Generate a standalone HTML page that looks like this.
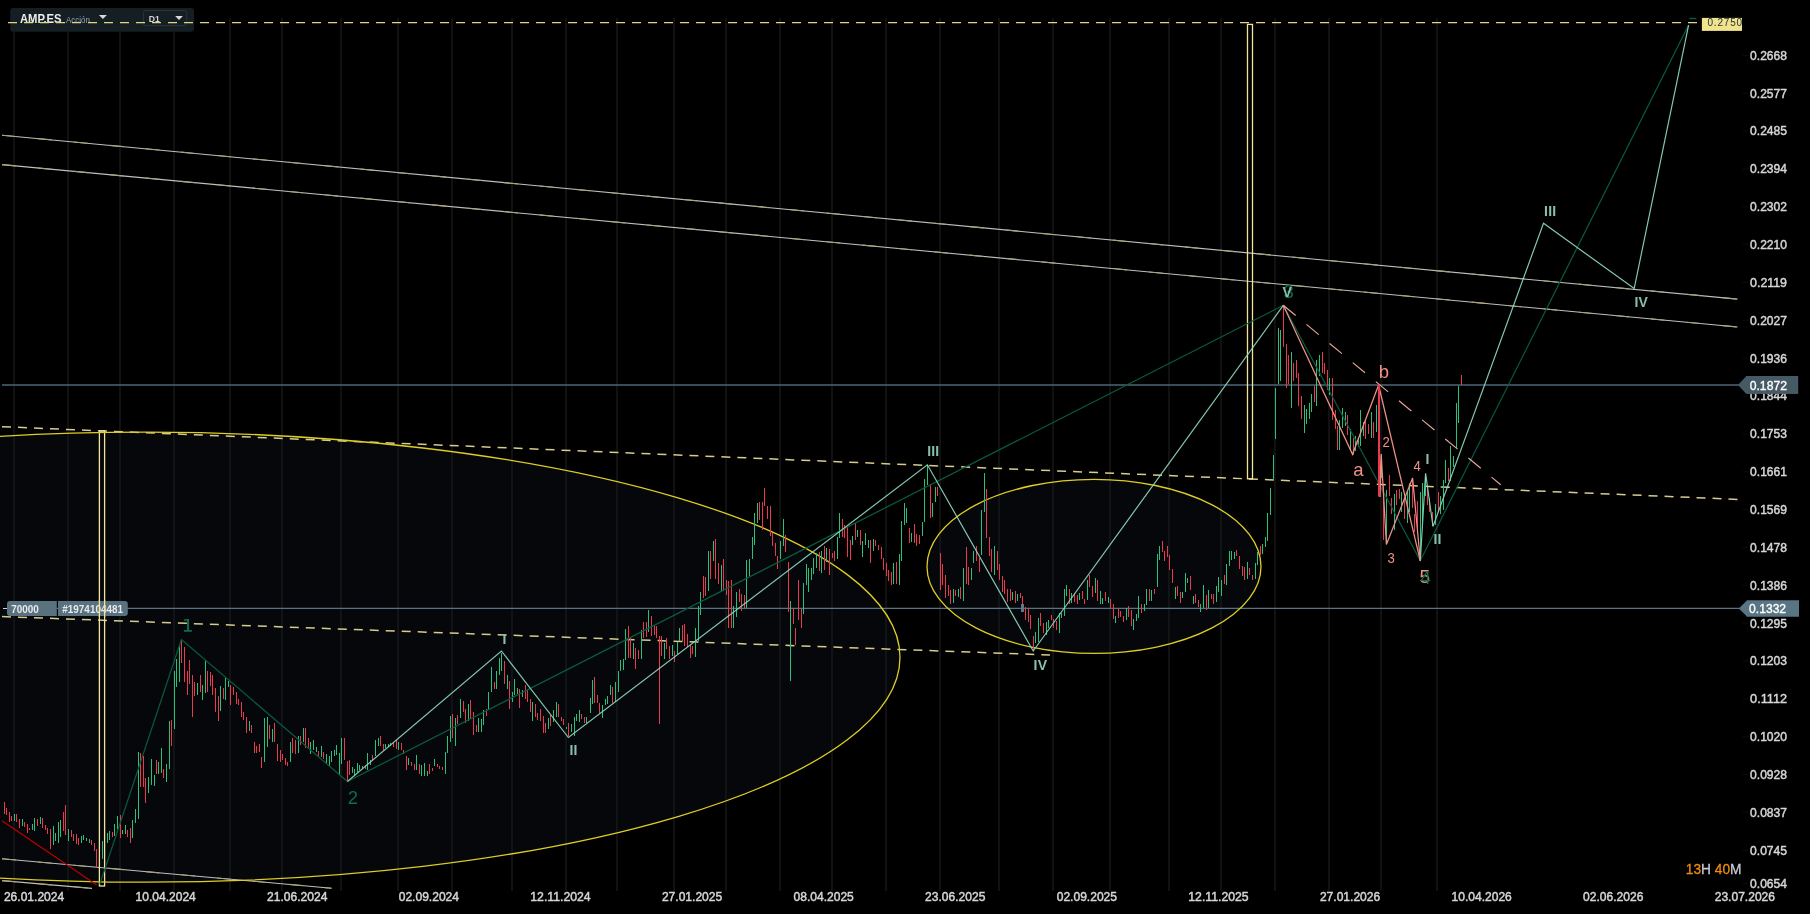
<!DOCTYPE html><html><head><meta charset="utf-8"><title>AMP.ES chart</title><style>
html,body{margin:0;padding:0;background:#000;}
body{width:1810px;height:914px;overflow:hidden;font-family:"Liberation Sans",sans-serif;}
svg{display:block;will-change:transform;}
text{font-family:"Liberation Sans",sans-serif;}
</style></head><body>
<svg width="1810" height="914" viewBox="0 0 1810 914">
<rect x="0" y="0" width="1810" height="914" fill="#000"/>
<defs><clipPath id="cp"><rect x="0" y="18" width="1740" height="871"/></clipPath></defs>
<g clip-path="url(#cp)">
<ellipse cx="145" cy="657.2" rx="755" ry="225" fill="#06070b"/>
<ellipse cx="1094" cy="566.4" rx="167" ry="87" fill="#06070b"/>
</g>
<g stroke="#19191b" stroke-width="1.4">
<line x1="14" y1="18" x2="14" y2="891"/>
<line x1="68" y1="18" x2="68" y2="891"/>
<line x1="120" y1="18" x2="120" y2="891"/>
<line x1="174" y1="18" x2="174" y2="891"/>
<line x1="230" y1="18" x2="230" y2="891"/>
<line x1="282" y1="18" x2="282" y2="891"/>
<line x1="341" y1="18" x2="341" y2="891"/>
<line x1="398" y1="18" x2="398" y2="891"/>
<line x1="452" y1="18" x2="452" y2="891"/>
<line x1="512" y1="18" x2="512" y2="891"/>
<line x1="566" y1="18" x2="566" y2="891"/>
<line x1="617" y1="18" x2="617" y2="891"/>
<line x1="674" y1="18" x2="674" y2="891"/>
<line x1="726" y1="18" x2="726" y2="891"/>
<line x1="780" y1="18" x2="780" y2="891"/>
<line x1="832" y1="18" x2="832" y2="891"/>
<line x1="886" y1="18" x2="886" y2="891"/>
<line x1="940" y1="18" x2="940" y2="891"/>
<line x1="999" y1="18" x2="999" y2="891"/>
<line x1="1053" y1="18" x2="1053" y2="891"/>
<line x1="1110" y1="18" x2="1110" y2="891"/>
<line x1="1169" y1="18" x2="1169" y2="891"/>
<line x1="1221" y1="18" x2="1221" y2="891"/>
<line x1="1275" y1="18" x2="1275" y2="891"/>
<line x1="1329" y1="18" x2="1329" y2="891"/>
<line x1="1381" y1="18" x2="1381" y2="891"/>
<line x1="1437" y1="18" x2="1437" y2="891"/>
</g>
<g clip-path="url(#cp)" fill="none">
<line x1="2" y1="135.2" x2="1737.5" y2="299.1" stroke="#bfbfbe" stroke-width="1.1"/>
<line x1="2" y1="135.2" x2="1737.5" y2="299.1" stroke="#aaa37e" stroke-width="1.1" stroke-dasharray="14 22"/>
<line x1="2" y1="164.6" x2="1737.5" y2="327" stroke="#bfbfbe" stroke-width="1.1"/>
<line x1="2" y1="164.6" x2="1737.5" y2="327" stroke="#aaa37e" stroke-width="1.1" stroke-dasharray="14 22"/>
<line x1="2" y1="858.8" x2="331.5" y2="888.2" stroke="#bfbfbe" stroke-width="1.1"/>
<line x1="2" y1="858.8" x2="331.5" y2="888.2" stroke="#aaa37e" stroke-width="1.1" stroke-dasharray="14 22"/>
<line x1="2" y1="880.6" x2="92" y2="888.4" stroke="#bfbfbe" stroke-width="1.1"/>
<line x1="2" y1="880.6" x2="92" y2="888.4" stroke="#aaa37e" stroke-width="1.1" stroke-dasharray="14 22"/>
<line x1="2" y1="426.7" x2="1738" y2="499.4" stroke="#d6cc8e" stroke-width="1.5" stroke-dasharray="9 7"/>
<line x1="2" y1="616.6" x2="1050" y2="655" stroke="#d6cc8e" stroke-width="1.5" stroke-dasharray="9 7"/>
<line x1="2" y1="385" x2="1740" y2="385" stroke="#4b6777" stroke-width="1.6"/>
<line x1="7" y1="608.4" x2="1740" y2="608.4" stroke="#587482" stroke-width="1.3"/>
<rect x="99.4" y="431" width="5.2" height="455" stroke="#f2e49a" stroke-width="1.3"/>
<rect x="1247.5" y="24.4" width="5" height="454.4" stroke="#f2e49a" stroke-width="1.3"/>
<ellipse cx="145" cy="657.2" rx="755" ry="225" stroke="#ddcd26" stroke-width="1.3"/>
<ellipse cx="1094" cy="566.4" rx="167" ry="87" stroke="#ddcd26" stroke-width="1.3"/>
</g>
<g fill="none" stroke-width="1" shape-rendering="crispEdges">
<path stroke="#27c07c" d="M14.5 814V821M22.5 819V826M32.5 824V830M34.5 818V831M40.5 817V824M53.5 826V845M55.5 833V841M58.5 822V843M60.5 820V837M68.5 829V841M81.5 836V843M83.5 835V840M86.5 838V841M89.5 839V843M102.5 841V859M107.5 833V843M109.5 831V840M114.5 824V836M117.5 816V829M122.5 830V834M125.5 825V834M132.5 820V838M135.5 809V823M138.5 752V819M148.5 777V793M151.5 759V785M154.5 775V786M158.5 762V774M161.5 748V773M166.5 764V782M169.5 721V769M174.5 671V729M176.5 659V687M179.5 646V682M197.5 683V695M202.5 685V700M205.5 660V693M220.5 686V711M225.5 678V700M228.5 681V687M249.5 721V731M264.5 718V762M267.5 717V747M272.5 729V742M290.5 742V762M298.5 736V753M303.5 728V742M310.5 742V754M313.5 740V750M316.5 747V752M321.5 746V757M326.5 754V763M329.5 756V766M331.5 751V762M334.5 750V756M336.5 745V755M339.5 753V775M341.5 738V764M352.5 767V773M354.5 769V775M357.5 763V772M359.5 765V770M362.5 766V768M367.5 753V770M370.5 760V765M375.5 740V756M378.5 738V746M385.5 744V748M388.5 744V747M390.5 743V746M398.5 742V750M408.5 758V765M416.5 755V770M421.5 765V776M424.5 763V776M427.5 771V776M434.5 759V766M445.5 752V774M447.5 736V753M450.5 716V742M455.5 718V746M460.5 699V718M468.5 704V721M478.5 718V732M481.5 719V732M483.5 710V725M488.5 692V710M491.5 667V692M496.5 671V689M499.5 658V675M501.5 653V671M507.5 675V689M512.5 692V702M514.5 679V695M517.5 688V694M522.5 690V697M532.5 702V721M548.5 718V729M553.5 710V722M556.5 702V717M566.5 727V729M571.5 724V732M574.5 717V736M576.5 714V721M579.5 710V722M586.5 717V723M590.5 698V713M592.5 680V704M602.5 705V718M605.5 699V705M607.5 696V704M610.5 685V695M615.5 682V702M618.5 671V692M620.5 660V671M623.5 659V670M625.5 629V660M633.5 643V659M641.5 630V659M648.5 610V632M664.5 643V659M672.5 645V656M677.5 642V654M679.5 628V641M695.5 628V657M698.5 606V641M700.5 592V615M708.5 551V591M713.5 541V561M721.5 565V592M733.5 606V628M736.5 592V617M746.5 560V608M749.5 559V576M752.5 537V559M754.5 513V545M757.5 503V523M780.5 541V559M783.5 519V546M790.5 601V681M803.5 583V614M806.5 564V585M808.5 568V592M811.5 568V580M813.5 558V574M816.5 553V568M821.5 551V573M826.5 548V562M837.5 537V559M839.5 513V538M852.5 536V545M857.5 530V537M862.5 541V557M865.5 533V545M868.5 540V548M873.5 539V551M893.5 563V584M899.5 554V585M901.5 521V561M904.5 503V525M906.5 508V523M911.5 533V542M922.5 522V536M924.5 479V522M927.5 465V485M932.5 503V517M935.5 487V502M953.5 589V603M958.5 589V597M963.5 568V601M971.5 568V580M973.5 551V563M981.5 510V555M984.5 473V512M994.5 546V575M1012.5 592V600M1017.5 594V601M1035.5 632V643M1038.5 618V642M1046.5 622V635M1048.5 620V628M1059.5 613V633M1061.5 613V618M1064.5 589V616M1066.5 585V596M1071.5 593V603M1079.5 593V600M1087.5 580V600M1095.5 578V593M1100.5 591V604M1102.5 598V604M1108.5 597V603M1115.5 616V623M1126.5 608V620M1133.5 619V630M1136.5 614V621M1138.5 596V618M1144.5 604V611M1146.5 589V605M1151.5 590V601M1157.5 554V587M1159.5 546V560M1175.5 587V599M1182.5 592V598M1185.5 573V592M1187.5 578V583M1193.5 596V604M1200.5 604V612M1203.5 585V608M1208.5 590V608M1216.5 586V602M1218.5 577V592M1221.5 580V596M1226.5 564V585M1229.5 551V566M1231.5 551V560M1234.5 552V559M1247.5 562V579M1255.5 563V579M1257.5 552V565M1262.5 544V554M1265.5 537V547M1267.5 513V541M1270.5 488V515M1273.5 455V480M1275.5 388V439M1278.5 328V384M1280.5 330V381M1291.5 352V408M1304.5 405V433M1306.5 409V424M1309.5 403V419M1311.5 394V412M1316.5 360V406M1319.5 355V376M1329.5 378V395M1339.5 420V450M1342.5 408V428M1345.5 412V426M1350.5 429V451M1355.5 436V451M1358.5 438V447M1360.5 410V446M1363.5 422V436M1371.5 412V438M1376.5 405V432M1381.5 454V478M1386.5 490V544M1394.5 494V530M1401.5 492V512M1407.5 492V523M1409.5 483V512M1420.5 492V561M1422.5 483V521M1425.5 474V496M1435.5 504V525M1440.5 496V514M1443.5 480V510M1445.5 460V483M1450.5 446V481M1453.5 456V467M1456.5 403V448M1458.5 386V423"/>
<path stroke="#e8394f" d="M4.5 802V814M6.5 808V815M9.5 812V822M11.5 816V821M16.5 814V822M19.5 819V828M24.5 822V827M27.5 824V833M29.5 828V830M37.5 819V826M42.5 818V828M45.5 825V830M47.5 828V834M50.5 829V849M63.5 812V831M65.5 805V835M71.5 830V837M73.5 834V841M76.5 834V844M78.5 838V845M91.5 840V845M94.5 843V851M96.5 849V867M112.5 832V837M120.5 815V838M127.5 830V837M130.5 828V843M140.5 753V787M143.5 756V787M145.5 778V803M156.5 760V774M163.5 769V778M171.5 720V746M181.5 640V663M184.5 647V682M187.5 671V695M189.5 660V684M192.5 675V717M194.5 682V696M200.5 675V692M207.5 671V692M210.5 672V686M212.5 675V695M215.5 688V712M218.5 696V721M223.5 688V699M230.5 685V705M233.5 687V695M236.5 692V704M238.5 699V705M241.5 702V717M243.5 712V720M246.5 717V733M251.5 725V733M254.5 742V753M256.5 746V753M259.5 744V752M261.5 757V768M269.5 725V739M274.5 723V742M277.5 744V761M280.5 750V762M282.5 754V760M285.5 758V765M287.5 762V766M292.5 738V753M295.5 740V754M300.5 736V745M305.5 728V748M308.5 738V748M318.5 751V756M323.5 752V759M344.5 738V760M347.5 761V781M349.5 760V775M365.5 765V769M372.5 755V760M380.5 736V746M383.5 744V750M393.5 743V747M396.5 740V749M401.5 743V750M403.5 750V754M406.5 756V770M411.5 762V766M414.5 764V770M419.5 764V774M429.5 764V774M432.5 768V771M437.5 764V767M439.5 766V769M442.5 767V770M452.5 714V738M457.5 715V724M463.5 701V712M465.5 709V723M470.5 700V719M473.5 712V735M476.5 725V732M486.5 709V716M494.5 682V689M504.5 661V684M509.5 681V709M519.5 689V708M525.5 685V699M527.5 690V702M530.5 699V712M535.5 704V717M537.5 713V720M540.5 709V721M543.5 716V733M545.5 723V733M550.5 715V726M558.5 704V717M561.5 717V721M563.5 719V725M568.5 723V736M581.5 714V719M584.5 717V723M594.5 677V703M597.5 695V703M599.5 703V713M612.5 687V703M628.5 626V658M630.5 638V658M635.5 648V669M638.5 650V659M643.5 622V638M646.5 622V637M651.5 616V636M654.5 625V635M656.5 626V638M659.5 636V724M661.5 636V656M666.5 638V649M669.5 646V659M674.5 651V662M682.5 625V641M684.5 624V646M687.5 634V647M690.5 644V658M692.5 646V654M703.5 576V598M705.5 577V596M710.5 551V579M715.5 539V579M718.5 563V584M723.5 559V591M726.5 580V595M728.5 581V628M731.5 580V628M739.5 589V602M741.5 594V611M744.5 595V608M759.5 502V520M762.5 502V530M764.5 488V506M767.5 506V519M770.5 506V536M772.5 533V546M775.5 543V556M777.5 556V569M785.5 535V552M788.5 562V612M793.5 608V624M795.5 628V645M798.5 580V620M801.5 609V628M819.5 552V571M824.5 546V570M829.5 549V575M832.5 553V558M834.5 551V561M842.5 519V537M844.5 525V538M847.5 527V557M850.5 540V560M855.5 523V540M860.5 530V545M870.5 540V563M875.5 540V546M878.5 545V550M881.5 547V559M883.5 558V570M886.5 563V576M888.5 570V581M891.5 572V585M896.5 562V584M909.5 528V543M914.5 524V543M916.5 534V546M919.5 535V544M930.5 485V518M937.5 487V496M940.5 553V590M942.5 564V585M945.5 575V598M948.5 585V596M950.5 590V604M955.5 590V596M960.5 587V599M966.5 547V584M968.5 567V585M976.5 546V561M979.5 558V572M986.5 489V538M989.5 537V556M991.5 549V572M997.5 551V570M999.5 564V580M1002.5 576V592M1004.5 580V594M1007.5 589V602M1010.5 589V601M1015.5 591V603M1020.5 593V598M1022.5 596V604M1025.5 607V620M1028.5 609V622M1030.5 615V629M1033.5 636V651M1040.5 613V626M1043.5 623V633M1051.5 615V620M1053.5 619V628M1056.5 621V630M1069.5 589V604M1074.5 593V602M1077.5 595V604M1082.5 591V599M1084.5 599V604M1089.5 575V587M1092.5 586V597M1097.5 580V601M1105.5 592V601M1110.5 599V608M1113.5 604V619M1118.5 609V618M1120.5 611V617M1123.5 616V622M1128.5 606V617M1131.5 610V626M1141.5 604V613M1149.5 589V601M1154.5 589V594M1162.5 541V552M1164.5 551V561M1167.5 546V557M1169.5 555V570M1172.5 569V583M1177.5 586V596M1180.5 592V603M1190.5 576V590M1195.5 594V603M1198.5 600V607M1206.5 595V610M1211.5 594V599M1213.5 594V604M1224.5 575V584M1236.5 550V556M1239.5 556V569M1242.5 566V576M1244.5 567V580M1249.5 568V575M1252.5 575V580M1260.5 546V555M1283.5 305V347M1286.5 344V388M1288.5 355V384M1293.5 363V381M1296.5 360V378M1298.5 373V406M1301.5 396V419M1314.5 386V402M1322.5 352V373M1324.5 363V374M1327.5 370V390M1332.5 378V420M1335.5 410V429M1337.5 426V450M1347.5 415V435M1353.5 438V455M1365.5 420V439M1368.5 424V434M1373.5 422V438M1379.5 385V497M1383.5 485V540M1389.5 475V496M1391.5 498V514M1396.5 490V505M1399.5 489V499M1404.5 498V519M1412.5 478V508M1414.5 514V532M1417.5 501V528M1427.5 489V505M1429.5 498V512M1432.5 512V526M1438.5 492V512M1448.5 468V481M1461.5 375V385"/>
</g>
<rect x="1021" y="604" width="3" height="8" fill="#5e7888"/>
<g fill="none" stroke-linejoin="miter" clip-path="url(#cp)">
<line x1="2" y1="820.7" x2="96.7" y2="885" stroke="#b80000" stroke-width="1.3"/>
<polyline stroke="#085c40" stroke-width="1.2" points="99.8,884.3 181.4,639.5 347.4,781.5 1283.3,305.3 1420.3,560.8 1688.6,25.1"/>
<polyline stroke="#8ed8be" stroke-width="1.2" stroke-opacity="0.92" points="347.4,781.5 501.4,651 568.4,737.5 927.4,464.8 1033.2,651 1283.3,305.3"/>
<polyline stroke="#8ed8be" stroke-width="1.2" stroke-opacity="0.92" points="1420.3,560.8 1425.6,473.3 1433,526.5 1543.5,223.3 1634.2,288.5 1688.6,25.1"/>
<polyline stroke="#ee9286" stroke-width="1.25" points="1283.3,305.3 1352.5,454.3 1378.6,385 1380,497 1381.2,454.3 1386.4,544.5 1412.6,478.1 1420.3,560.8"/>
<line x1="1378.6" y1="385" x2="1420.3" y2="560.8" stroke="#ee9286" stroke-width="1.25"/>
<line x1="1283.3" y1="305.3" x2="1500.7" y2="484.7" stroke="#e9a49a" stroke-width="1.15" stroke-dasharray="16 14"/>
</g>
<path d="M187 618.9H189.1V630.1H191.9V631.8H183.9V630.1H187V620.5L183.9 621.1V619.6Z" fill="#0e6c4b"/>
<text x="347.8" y="804" font-size="18.5" fill="#0e6c4b" >2</text>
<text x="1283.6" y="298" font-size="18.5" fill="#0e6c4b" >3</text>
<text x="927.2" y="455.9" font-size="14" fill="#88c0ab" font-weight="bold" letter-spacing="0.15">III</text>
<text x="502.5" y="644" font-size="14" fill="#88c0ab" font-weight="bold" letter-spacing="0.15">I</text>
<text x="569.5" y="755" font-size="14" fill="#88c0ab" font-weight="bold" letter-spacing="0.15">II</text>
<text x="1033.6" y="670" font-size="14" fill="#88c0ab" font-weight="bold" letter-spacing="0.15">IV</text>
<text x="1282.6" y="297.1" font-size="14" fill="#88c0ab" font-weight="bold" letter-spacing="0.15">V</text>
<text x="1425.5" y="464.2" font-size="14" fill="#88c0ab" font-weight="bold" letter-spacing="0.15">I</text>
<text x="1433.5" y="543.7" font-size="14" fill="#88c0ab" font-weight="bold" letter-spacing="0.15">II</text>
<text x="1544.1" y="216" font-size="14" fill="#88c0ab" font-weight="bold" letter-spacing="0.15">III</text>
<text x="1634.4" y="306.8" font-size="14" fill="#88c0ab" font-weight="bold" letter-spacing="0.15">IV</text>
<text x="1353.2" y="475.8" font-size="18.5" fill="#ee9286" >a</text>
<text x="1378.8" y="377.7" font-size="18.5" fill="#ee9286" >b</text>
<text x="1382.6" y="446.9" font-size="15.5" fill="#ee9286" textLength="7.3" lengthAdjust="spacingAndGlyphs">2</text>
<text x="1387.6" y="563" font-size="15.5" fill="#ee9286" textLength="7.3" lengthAdjust="spacingAndGlyphs">3</text>
<text x="1413.6" y="471" font-size="15.5" fill="#ee9286" textLength="7.3" lengthAdjust="spacingAndGlyphs">4</text>
<text x="1419.5" y="583" font-size="19" fill="#ee9286" >5</text>
<text x="1420.6" y="583.8" font-size="18.5" fill="#0e6c4b" >4</text>
<rect x="10.2" y="7.9" width="183.8" height="23.8" rx="3" fill="#151e23"/>
<rect x="143.4" y="10.5" width="43.3" height="15.1" rx="2" fill="#151e23" stroke="#2a353b" stroke-width="1"/>
<text x="19.9" y="22.6" font-size="12" font-weight="bold" fill="#ececec" textLength="41.7" lengthAdjust="spacingAndGlyphs">AMP.ES</text>
<text x="66" y="22.6" font-size="9" fill="#8ea3b1" textLength="24" lengthAdjust="spacingAndGlyphs">Acción</text>
<path d="M98.9 15.1H106.9L102.9 19Z" fill="#d8d8d8"/>
<text x="148.8" y="21.9" font-size="9.6" font-weight="bold" fill="#d4d4d4" textLength="11" lengthAdjust="spacingAndGlyphs">D1</text>
<path d="M175.1 15.9H182.9L179 19.9Z" fill="#d8d8d8"/>
<line x1="1379" y1="384.7" x2="1379" y2="496.5" stroke="#e8394f" stroke-width="2"/>
<line x1="8" y1="22.55" x2="1697" y2="22.55" stroke="#dfd585" stroke-width="1.15" stroke-dasharray="9 7"/>
<line x1="1689.3" y1="18.5" x2="1696.3" y2="18.5" stroke="#085c40" stroke-width="1.3"/>
<path d="M10 601H56.8V615.9H10A3 3 0 0 1 7 612.9V604A3 3 0 0 1 10 601Z" fill="#5a717f"/>
<path d="M58 601H124.8A3 3 0 0 1 127.8 604V612.9A3 3 0 0 1 124.8 615.9H58Z" fill="#5a717f"/>
<line x1="3" y1="608.5" x2="7" y2="608.5" stroke="#d0d0d0" stroke-width="1"/>
<text x="11.2" y="612.9" font-size="10" font-weight="bold" fill="#e8eaec" textLength="27.5" lengthAdjust="spacingAndGlyphs">70000</text>
<text x="62.3" y="612.9" font-size="10" font-weight="bold" fill="#e8eaec" textLength="60.7" lengthAdjust="spacingAndGlyphs">#1974104481</text>
<line x1="99.4" y1="600" x2="99.4" y2="617" stroke="#f2e49a" stroke-width="1.3"/>
<line x1="104.6" y1="600" x2="104.6" y2="617" stroke="#f2e49a" stroke-width="1.3"/>
<line x1="1742.5" y1="55.4" x2="1748" y2="55.4" stroke="#0d0d0d" stroke-width="1"/>
<text x="1750.1" y="59.7" font-size="12" fill="#d6d6d6" textLength="36.9" lengthAdjust="spacingAndGlyphs" stroke="#d6d6d6" stroke-width="0.45">0.2668</text>
<line x1="1742.5" y1="93.3" x2="1748" y2="93.3" stroke="#0d0d0d" stroke-width="1"/>
<text x="1750.1" y="97.6" font-size="12" fill="#d6d6d6" textLength="36.9" lengthAdjust="spacingAndGlyphs" stroke="#d6d6d6" stroke-width="0.45">0.2577</text>
<line x1="1742.5" y1="131.1" x2="1748" y2="131.1" stroke="#0d0d0d" stroke-width="1"/>
<text x="1750.1" y="135.4" font-size="12" fill="#d6d6d6" textLength="36.9" lengthAdjust="spacingAndGlyphs" stroke="#d6d6d6" stroke-width="0.45">0.2485</text>
<line x1="1742.5" y1="168.9" x2="1748" y2="168.9" stroke="#0d0d0d" stroke-width="1"/>
<text x="1750.1" y="173.2" font-size="12" fill="#d6d6d6" textLength="36.9" lengthAdjust="spacingAndGlyphs" stroke="#d6d6d6" stroke-width="0.45">0.2394</text>
<line x1="1742.5" y1="206.8" x2="1748" y2="206.8" stroke="#0d0d0d" stroke-width="1"/>
<text x="1750.1" y="211.1" font-size="12" fill="#d6d6d6" textLength="36.9" lengthAdjust="spacingAndGlyphs" stroke="#d6d6d6" stroke-width="0.45">0.2302</text>
<line x1="1742.5" y1="244.6" x2="1748" y2="244.6" stroke="#0d0d0d" stroke-width="1"/>
<text x="1750.1" y="248.9" font-size="12" fill="#d6d6d6" textLength="36.9" lengthAdjust="spacingAndGlyphs" stroke="#d6d6d6" stroke-width="0.45">0.2210</text>
<line x1="1742.5" y1="282.5" x2="1748" y2="282.5" stroke="#0d0d0d" stroke-width="1"/>
<text x="1750.1" y="286.8" font-size="12" fill="#d6d6d6" textLength="36.9" lengthAdjust="spacingAndGlyphs" stroke="#d6d6d6" stroke-width="0.45">0.2119</text>
<line x1="1742.5" y1="320.3" x2="1748" y2="320.3" stroke="#0d0d0d" stroke-width="1"/>
<text x="1750.1" y="324.6" font-size="12" fill="#d6d6d6" textLength="36.9" lengthAdjust="spacingAndGlyphs" stroke="#d6d6d6" stroke-width="0.45">0.2027</text>
<line x1="1742.5" y1="358.2" x2="1748" y2="358.2" stroke="#0d0d0d" stroke-width="1"/>
<text x="1750.1" y="362.5" font-size="12" fill="#d6d6d6" textLength="36.9" lengthAdjust="spacingAndGlyphs" stroke="#d6d6d6" stroke-width="0.45">0.1936</text>
<line x1="1742.5" y1="396.1" x2="1748" y2="396.1" stroke="#0d0d0d" stroke-width="1"/>
<text x="1750.1" y="400.4" font-size="12" fill="#d6d6d6" textLength="36.9" lengthAdjust="spacingAndGlyphs" stroke="#d6d6d6" stroke-width="0.45">0.1844</text>
<line x1="1742.5" y1="433.9" x2="1748" y2="433.9" stroke="#0d0d0d" stroke-width="1"/>
<text x="1750.1" y="438.2" font-size="12" fill="#d6d6d6" textLength="36.9" lengthAdjust="spacingAndGlyphs" stroke="#d6d6d6" stroke-width="0.45">0.1753</text>
<line x1="1742.5" y1="471.8" x2="1748" y2="471.8" stroke="#0d0d0d" stroke-width="1"/>
<text x="1750.1" y="476.1" font-size="12" fill="#d6d6d6" textLength="36.9" lengthAdjust="spacingAndGlyphs" stroke="#d6d6d6" stroke-width="0.45">0.1661</text>
<line x1="1742.5" y1="509.6" x2="1748" y2="509.6" stroke="#0d0d0d" stroke-width="1"/>
<text x="1750.1" y="513.9" font-size="12" fill="#d6d6d6" textLength="36.9" lengthAdjust="spacingAndGlyphs" stroke="#d6d6d6" stroke-width="0.45">0.1569</text>
<line x1="1742.5" y1="547.5" x2="1748" y2="547.5" stroke="#0d0d0d" stroke-width="1"/>
<text x="1750.1" y="551.8" font-size="12" fill="#d6d6d6" textLength="36.9" lengthAdjust="spacingAndGlyphs" stroke="#d6d6d6" stroke-width="0.45">0.1478</text>
<line x1="1742.5" y1="585.3" x2="1748" y2="585.3" stroke="#0d0d0d" stroke-width="1"/>
<text x="1750.1" y="589.6" font-size="12" fill="#d6d6d6" textLength="36.9" lengthAdjust="spacingAndGlyphs" stroke="#d6d6d6" stroke-width="0.45">0.1386</text>
<line x1="1742.5" y1="623.2" x2="1748" y2="623.2" stroke="#0d0d0d" stroke-width="1"/>
<text x="1750.1" y="627.5" font-size="12" fill="#d6d6d6" textLength="36.9" lengthAdjust="spacingAndGlyphs" stroke="#d6d6d6" stroke-width="0.45">0.1295</text>
<line x1="1742.5" y1="661" x2="1748" y2="661" stroke="#0d0d0d" stroke-width="1"/>
<text x="1750.1" y="665.3" font-size="12" fill="#d6d6d6" textLength="36.9" lengthAdjust="spacingAndGlyphs" stroke="#d6d6d6" stroke-width="0.45">0.1203</text>
<line x1="1742.5" y1="698.9" x2="1748" y2="698.9" stroke="#0d0d0d" stroke-width="1"/>
<text x="1750.1" y="703.2" font-size="12" fill="#d6d6d6" textLength="36.9" lengthAdjust="spacingAndGlyphs" stroke="#d6d6d6" stroke-width="0.45">0.1112</text>
<line x1="1742.5" y1="736.7" x2="1748" y2="736.7" stroke="#0d0d0d" stroke-width="1"/>
<text x="1750.1" y="741" font-size="12" fill="#d6d6d6" textLength="36.9" lengthAdjust="spacingAndGlyphs" stroke="#d6d6d6" stroke-width="0.45">0.1020</text>
<line x1="1742.5" y1="774.6" x2="1748" y2="774.6" stroke="#0d0d0d" stroke-width="1"/>
<text x="1750.1" y="778.9" font-size="12" fill="#d6d6d6" textLength="36.9" lengthAdjust="spacingAndGlyphs" stroke="#d6d6d6" stroke-width="0.45">0.0928</text>
<line x1="1742.5" y1="812.4" x2="1748" y2="812.4" stroke="#0d0d0d" stroke-width="1"/>
<text x="1750.1" y="816.7" font-size="12" fill="#d6d6d6" textLength="36.9" lengthAdjust="spacingAndGlyphs" stroke="#d6d6d6" stroke-width="0.45">0.0837</text>
<line x1="1742.5" y1="850.3" x2="1748" y2="850.3" stroke="#0d0d0d" stroke-width="1"/>
<text x="1750.1" y="854.6" font-size="12" fill="#d6d6d6" textLength="36.9" lengthAdjust="spacingAndGlyphs" stroke="#d6d6d6" stroke-width="0.45">0.0745</text>
<line x1="1742.5" y1="883.2" x2="1748" y2="883.2" stroke="#0d0d0d" stroke-width="1"/>
<text x="1750.1" y="887.5" font-size="12" fill="#d6d6d6" textLength="36.9" lengthAdjust="spacingAndGlyphs" stroke="#d6d6d6" stroke-width="0.45">0.0654</text>
<path d="M1738 384.9L1746 376V393.8H1798V376H1746Z" fill="#465a66"/>
<path d="M1738 384.9L1746.2 376.2H1798.2V393.7H1746.2Z" fill="#465a66"/>
<text x="1749.7" y="390" font-size="12.3" fill="#ffffff" textLength="37.3" lengthAdjust="spacingAndGlyphs" stroke="#ffffff" stroke-width="0.35">0.1872</text>
<path d="M1738.9 608.4L1747.1 600.2H1799V616.7H1747.1Z" fill="#597583"/>
<text x="1749.1" y="613" font-size="12.3" fill="#ffffff" textLength="37" lengthAdjust="spacingAndGlyphs" stroke="#ffffff" stroke-width="0.35">0.1332</text>
<rect x="1701.9" y="17.9" width="40.1" height="13" fill="#efe38e"/>
<svg x="1701.9" y="17.9" width="40.1" height="13" overflow="hidden"><text x="5.6" y="8" font-size="10" fill="#2a3038" letter-spacing="0.8">0.2750</text></svg>
<text x="3.9" y="900.8" font-size="12" fill="#d6d6d6" textLength="60.3" lengthAdjust="spacingAndGlyphs" stroke="#d6d6d6" stroke-width="0.45">26.01.2024</text>
<text x="135.5" y="900.8" font-size="12" fill="#d6d6d6" textLength="60.3" lengthAdjust="spacingAndGlyphs" stroke="#d6d6d6" stroke-width="0.45">10.04.2024</text>
<text x="267.1" y="900.8" font-size="12" fill="#d6d6d6" textLength="60.3" lengthAdjust="spacingAndGlyphs" stroke="#d6d6d6" stroke-width="0.45">21.06.2024</text>
<text x="398.7" y="900.8" font-size="12" fill="#d6d6d6" textLength="60.3" lengthAdjust="spacingAndGlyphs" stroke="#d6d6d6" stroke-width="0.45">02.09.2024</text>
<text x="530.3" y="900.8" font-size="12" fill="#d6d6d6" textLength="60.3" lengthAdjust="spacingAndGlyphs" stroke="#d6d6d6" stroke-width="0.45">12.11.2024</text>
<text x="661.9" y="900.8" font-size="12" fill="#d6d6d6" textLength="60.3" lengthAdjust="spacingAndGlyphs" stroke="#d6d6d6" stroke-width="0.45">27.01.2025</text>
<text x="793.5" y="900.8" font-size="12" fill="#d6d6d6" textLength="60.3" lengthAdjust="spacingAndGlyphs" stroke="#d6d6d6" stroke-width="0.45">08.04.2025</text>
<text x="925.1" y="900.8" font-size="12" fill="#d6d6d6" textLength="60.3" lengthAdjust="spacingAndGlyphs" stroke="#d6d6d6" stroke-width="0.45">23.06.2025</text>
<text x="1056.7" y="900.8" font-size="12" fill="#d6d6d6" textLength="60.3" lengthAdjust="spacingAndGlyphs" stroke="#d6d6d6" stroke-width="0.45">02.09.2025</text>
<text x="1188.3" y="900.8" font-size="12" fill="#d6d6d6" textLength="60.3" lengthAdjust="spacingAndGlyphs" stroke="#d6d6d6" stroke-width="0.45">12.11.2025</text>
<text x="1319.9" y="900.8" font-size="12" fill="#d6d6d6" textLength="60.3" lengthAdjust="spacingAndGlyphs" stroke="#d6d6d6" stroke-width="0.45">27.01.2026</text>
<text x="1451.5" y="900.8" font-size="12" fill="#d6d6d6" textLength="60.3" lengthAdjust="spacingAndGlyphs" stroke="#d6d6d6" stroke-width="0.45">10.04.2026</text>
<text x="1583.1" y="900.8" font-size="12" fill="#d6d6d6" textLength="60.3" lengthAdjust="spacingAndGlyphs" stroke="#d6d6d6" stroke-width="0.45">02.06.2026</text>
<text x="1714.7" y="900.8" font-size="12" fill="#d6d6d6" textLength="60.3" lengthAdjust="spacingAndGlyphs" stroke="#d6d6d6" stroke-width="0.45">23.07.2026</text>
<text x="1685.8" y="873.6" font-size="14" textLength="55.7" lengthAdjust="spacingAndGlyphs" stroke-width="0.3"><tspan fill="#f08c10" stroke="#f08c10">13</tspan><tspan fill="#c8ccd0" stroke="#c8ccd0">H </tspan><tspan fill="#f08c10" stroke="#f08c10">40</tspan><tspan fill="#c8ccd0" stroke="#c8ccd0">M</tspan></text>
</svg></body></html>
